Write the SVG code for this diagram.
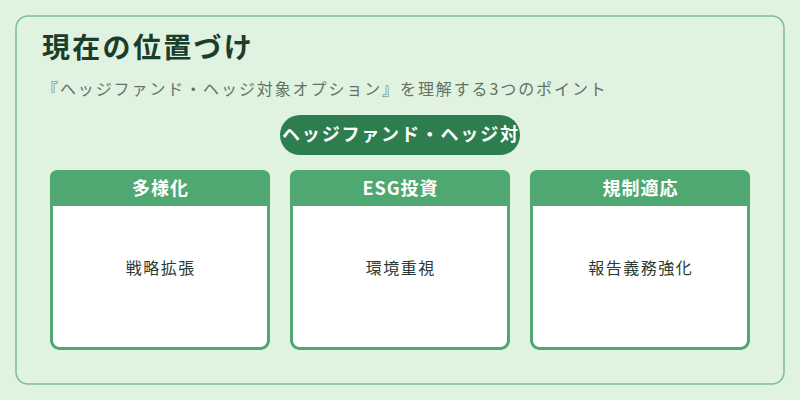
<svg xmlns="http://www.w3.org/2000/svg" width="800" height="400" viewBox="0 0 800 400">
<defs>
<style>
.t{font-family:"Noto Sans CJK JP","Noto Sans",sans-serif}
.card{fill:#ffffff;stroke:#4fa872;stroke-width:3}
.hdr{fill:#4fa872}
.ht{font-size:18px;font-weight:bold;fill:#ffffff;text-anchor:middle;letter-spacing:1px}
.bt{font-size:16px;fill:#2a3b33;text-anchor:middle;letter-spacing:1.5px}
</style>
<clipPath id="pillclip"><rect x="280" y="115" width="240" height="40" rx="20"/></clipPath>
</defs>
<rect x="0" y="0" width="800" height="400" fill="#e0f2e0"/>
<rect x="16" y="16" width="768" height="368" rx="12" fill="none" stroke="#7fbd92" stroke-width="1.5"/>
<text class="t" x="42" y="58" font-size="28" font-weight="bold" fill="#1b3d2c" letter-spacing="2.3">現在の位置づけ</text>
<text class="t" x="42" y="95" font-size="16" fill="#5f7467" letter-spacing="1.9">『ヘッジファンド・ヘッジ対象オプション』を理解する3つのポイント</text>
<g id="pill">
<rect x="280" y="115" width="240" height="40" rx="20" fill="#2e7d4f"/>
<text class="t" x="400" y="141" font-size="18" font-weight="bold" fill="#ffffff" text-anchor="middle" clip-path="url(#pillclip)" textLength="236" lengthAdjust="spacing">ヘッジファンド・ヘッジ対</text>
</g>
<g id="card1">
<rect class="card" x="51.5" y="171.5" width="217" height="177" rx="8"/>
<path class="hdr" d="M50,206 V178 Q50,170 58,170 H262 Q270,170 270,178 V206 Z"/>
<text class="t ht" x="160.5" y="195">多様化</text>
<text class="t bt" x="160.75" y="274">戦略拡張</text>
</g>
<g id="card2">
<rect class="card" x="291.5" y="171.5" width="217" height="177" rx="8"/>
<path class="hdr" d="M290,206 V178 Q290,170 298,170 H502 Q510,170 510,178 V206 Z"/>
<text class="t ht" x="400.5" y="195">ESG投資</text>
<text class="t bt" x="400.75" y="274">環境重視</text>
</g>
<g id="card3">
<rect class="card" x="531.5" y="171.5" width="217" height="177" rx="8"/>
<path class="hdr" d="M530,206 V178 Q530,170 538,170 H742 Q750,170 750,178 V206 Z"/>
<text class="t ht" x="640.5" y="195">規制適応</text>
<text class="t bt" x="640.75" y="274">報告義務強化</text>
</g>
<g id="connectors"></g>
</svg>
